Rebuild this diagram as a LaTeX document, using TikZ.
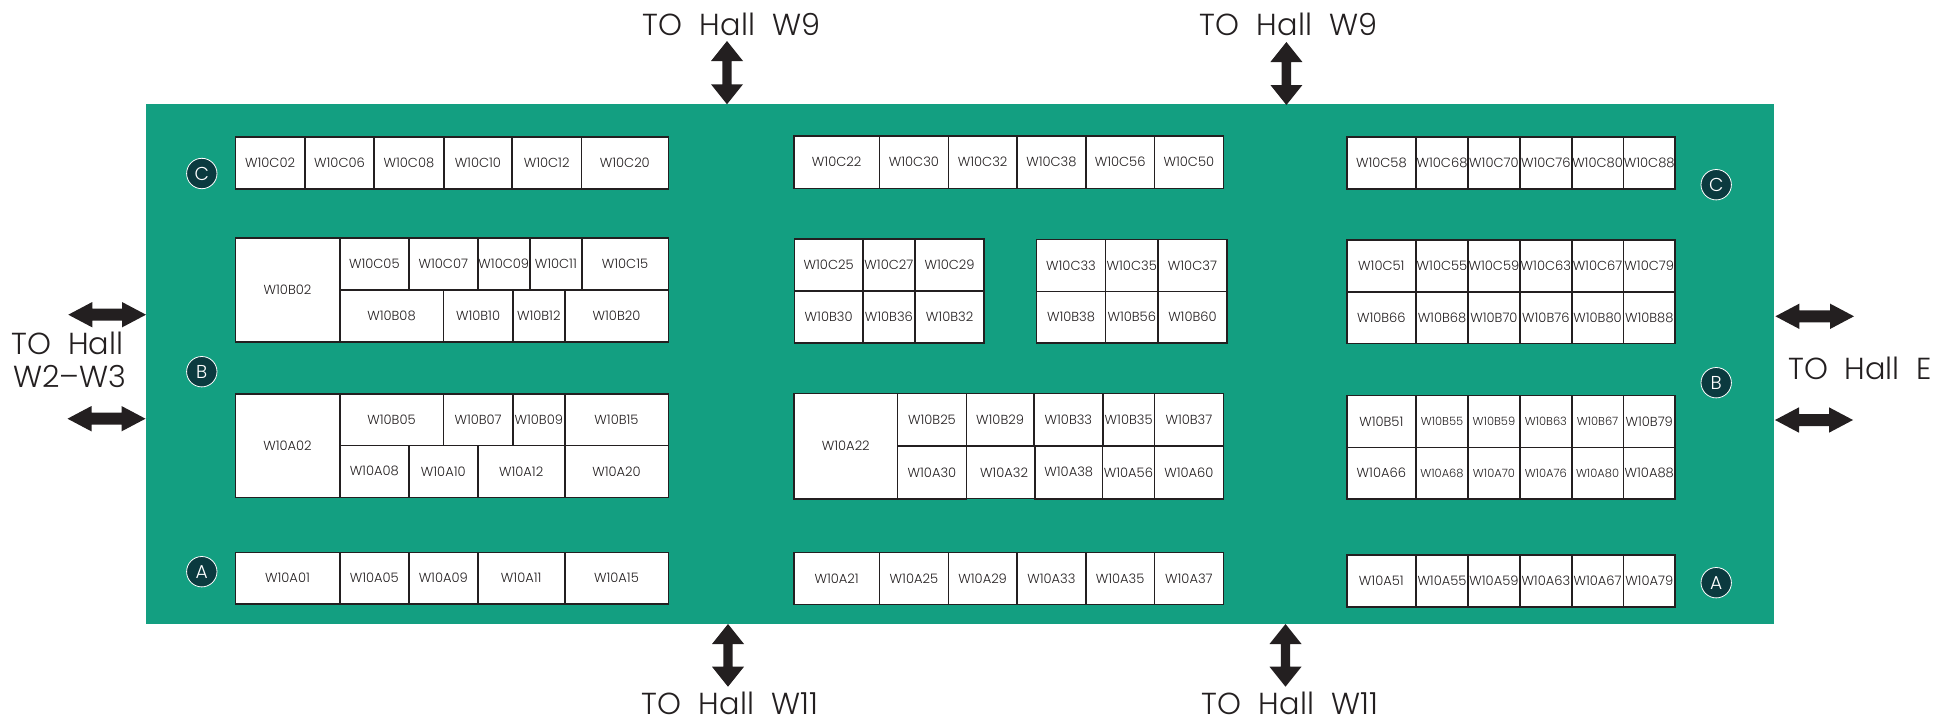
\documentclass[tikz,border=0pt]{standalone}
\usepackage{fontspec}
\setmainfont{Poppins}
\newfontfamily\pl{Poppins Light}
\definecolor{hall}{HTML}{139F81}
\definecolor{ink}{HTML}{231F20}
\definecolor{badge}{HTML}{0B3A3F}
\tikzset{
  stand/.style={draw=ink,fill=white,line width=1.2pt,inner sep=0pt,outer sep=0pt,text=ink,rectangle},
  badgenode/.style={circle,draw=white,fill=badge,line width=.6pt,minimum size=22.8pt,inner sep=0pt,text=white,font=\pl\fontsize{14}{14}\selectfont},
  biglabel/.style={anchor=base west,inner sep=0pt,text=ink,font=\pl\fontsize{22.8}{22.8}\selectfont},
  darrow/.style={fill=ink,draw=none},
  normalfont/.style={font=\pl\fontsize{9.8}{9.8}\selectfont},
  smallfont/.style={font=\pl\fontsize{8.6}{8.6}\selectfont}
}
\newcommand\cellrow[4][normalfont]{%
  \foreach \xa/\xb/\lab in {#4}{%
    \pgfmathsetmacro\cellw{(\xb-\xa)*0.75}%
    \pgfmathsetmacro\cellh{(#3-#2)*0.75}%
    \pgfmathsetmacro\cx{(\xa+\xb)/2}%
    \pgfmathsetmacro\cy{(#2+#3)/2}%
    \node[stand,#1,minimum width=\cellw pt,minimum height=\cellh pt] (\lab) at (\cx,\cy) {\makebox[0pt]{\lab}};%
  }%
}
\newcommand\harrow[3]{% x1 x2 y
  \fill[darrow] (#1,#3) -- (#1+24,#3-12.7) -- (#1+24,#3-6) -- (#2-24,#3-6) -- (#2-24,#3-12.7) -- (#2,#3) -- (#2-24,#3+12.7) -- (#2-24,#3+6) -- (#1+24,#3+6) -- (#1+24,#3+12.7) -- cycle;}
\newcommand\varrow[3]{% x y1 y2
  \fill[darrow] (#1,#2) -- (#1+16,#2+20) -- (#1+4.7,#2+20) -- (#1+4.7,#3-20) -- (#1+16,#3-20) -- (#1,#3) -- (#1-16,#3-20) -- (#1-4.7,#3-20) -- (#1-4.7,#2+20) -- (#1-16,#2+20) -- cycle;}
\begin{document}
\begin{tikzpicture}[x=0.75pt,y=-0.75pt]
\useasboundingbox (0,0) rectangle (1936,718);
\fill[hall] (146,104) rectangle (1774,624);
% left block
\cellrow{136.7}{189}{235.3/304.9/W10C02,304.9/374.1/W10C06,374.1/443.8/W10C08,443.8/512/W10C10,512/581.3/W10C12,581.3/668.3/W10C20}
\cellrow{237.7}{342}{235.3/339.7/W10B02}
\cellrow{237.7}{290}{339.7/408.9/W10C05,408.9/477.7/W10C07,477.7/529.9/W10C09,529.9/581.7/W10C11,581.7/668.3/W10C15}
\cellrow{290}{342}{339.7/443.3/W10B08,443.3/512.9/W10B10,512.9/564.7/W10B12,564.7/668.3/W10B20}
\cellrow{393.7}{497.3}{235.3/339.7/W10A02}
\cellrow{393.7}{445.3}{339.7/443.3/W10B05,443.3/512.9/W10B07,512.9/564.7/W10B09,564.7/668.3/W10B15}
\cellrow{445.3}{497.3}{339.7/408.9/W10A08,408.9/477.7/W10A10,477.7/564.7/W10A12,564.7/668.3/W10A20}
\cellrow{552.3}{604}{235.3/339.7/W10A01,339.7/408.9/W10A05,408.9/477.7/W10A09,477.7/564.7/W10A11,564.7/668.3/W10A15}
% middle block
\cellrow{136}{188.3}{794/879.3/W10C22,879.3/948.5/W10C30,948.5/1016.8/W10C32,1016.8/1086/W10C38,1086/1154.3/W10C56,1154.3/1223.5/W10C50}
\cellrow{238.7}{290.7}{794.5/862.8/W10C25,862.8/915/W10C27,915/984.2/W10C29}
\cellrow{290.7}{342.7}{794.5/862.8/W10B30,862.8/915/W10B36,915/984.2/W10B32}
\cellrow{239.3}{291.3}{1036.4/1105.6/W10C33,1105.6/1157.9/W10C35,1157.9/1227/W10C37}
\cellrow{291.3}{343}{1036.4/1105.6/W10B38,1105.6/1157.9/W10B56,1157.9/1227/W10B60}
\cellrow{393.3}{498.7}{794/897.6/W10A22}
\cellrow{393.3}{446}{897.6/966.3/W10B25,966.3/1033.8/W10B29,1033.8/1103/W10B33,1103/1154.3/W10B35,1154.3/1223.5/W10B37}
\cellrow{446}{498.7}{897.6/966.3/W10A30,1035/1102.5/W10A38,1102.5/1154.3/W10A56,1154.3/1223.5/W10A60}
\node[stand,normalfont,minimum width=51.5pt,minimum height=39.5pt] (W10A32) at (1000.65,472.35) {\makebox[0pt]{\hspace{5pt}W10A32}};
\cellrow{552.3}{604.3}{794/879.3/W10A21,879.3/948.5/W10A25,948.5/1016.8/W10A29,1016.8/1086/W10A33,1086/1154.3/W10A35,1154.3/1223.5/W10A37}
% right block
\cellrow{137}{189}{1346.7/1416/W10C58,1416/1468/W10C68,1468/1519.9/W10C70,1519.9/1571.8/W10C76,1571.8/1623.3/W10C80,1623.3/1675.2/W10C88}
\cellrow{239.7}{291.7}{1346.7/1416/W10C51,1416/1468/W10C55,1468/1519.9/W10C59,1519.9/1571.8/W10C63,1571.8/1623.3/W10C67,1623.3/1675.2/W10C79}
\cellrow{291.7}{343.3}{1346.7/1416/W10B66,1416/1468/W10B68,1468/1519.9/W10B70,1519.9/1571.8/W10B76,1571.8/1623.3/W10B80,1623.3/1675.2/W10B88}
\cellrow{395.3}{447.3}{1346.7/1416/W10B51,1623.3/1675.2/W10B79}
\cellrow[smallfont]{395.3}{447.3}{1416/1468/W10B55,1468/1519.9/W10B59,1519.9/1571.8/W10B63,1571.8/1623.3/W10B67}
\cellrow{447.3}{499}{1346.7/1416/W10A66,1623.3/1675.2/W10A88}
\cellrow[smallfont]{447.3}{499}{1416/1468/W10A68,1468/1519.9/W10A70,1519.9/1571.8/W10A76,1571.8/1623.3/W10A80}
\cellrow{554.7}{607}{1346.7/1416/W10A51,1416/1468/W10A55,1468/1519.9/W10A59,1519.9/1571.8/W10A63,1571.8/1623.3/W10A67,1623.3/1675.2/W10A79}
% badges
\node[badgenode] (cCl) at (201.8,173.5) {C};
\node[badgenode] (bBl) at (201.8,371.7) {B};
\node[badgenode] (aAl) at (201.8,571.7) {A};
\node[badgenode] (cCr) at (1716.2,184.7) {C};
\node[badgenode] (bBr) at (1716.2,382.7) {B};
\node[badgenode] (aAr) at (1716.2,582.7) {A};
% arrows
\varrow{727}{41}{104.3}
\varrow{1286.4}{42}{105}
\varrow{728}{624}{686.7}
\varrow{1285.5}{624}{686.7}
\harrow{68.3}{146}{314.7}
\harrow{67.5}{145.5}{418.7}
\harrow{1775.4}{1854}{316.3}
\harrow{1775}{1853}{420}
% labels
\node[biglabel] (topa) at (642,35) {TO\hspace{13.4pt}Hall\hspace{13.4pt}W9};
\node[biglabel] (topb) at (1199,35) {TO\hspace{13.4pt}Hall\hspace{13.4pt}W9};
\node[biglabel] (bota) at (641,714) {TO\hspace{13.4pt}Hall\hspace{13.4pt}W11};
\node[biglabel] (botb) at (1201,714) {TO\hspace{13.4pt}Hall\hspace{13.4pt}W11};
\node[biglabel] (lefta) at (11,354.7) {TO\hspace{13pt}Hall};
\node[biglabel] (leftb) at (13,387) {W2–W3};
\node[biglabel] (righta) at (1788,379) {TO\hspace{12.6pt}Hall\hspace{12.6pt}E};
\end{tikzpicture}
\end{document}
